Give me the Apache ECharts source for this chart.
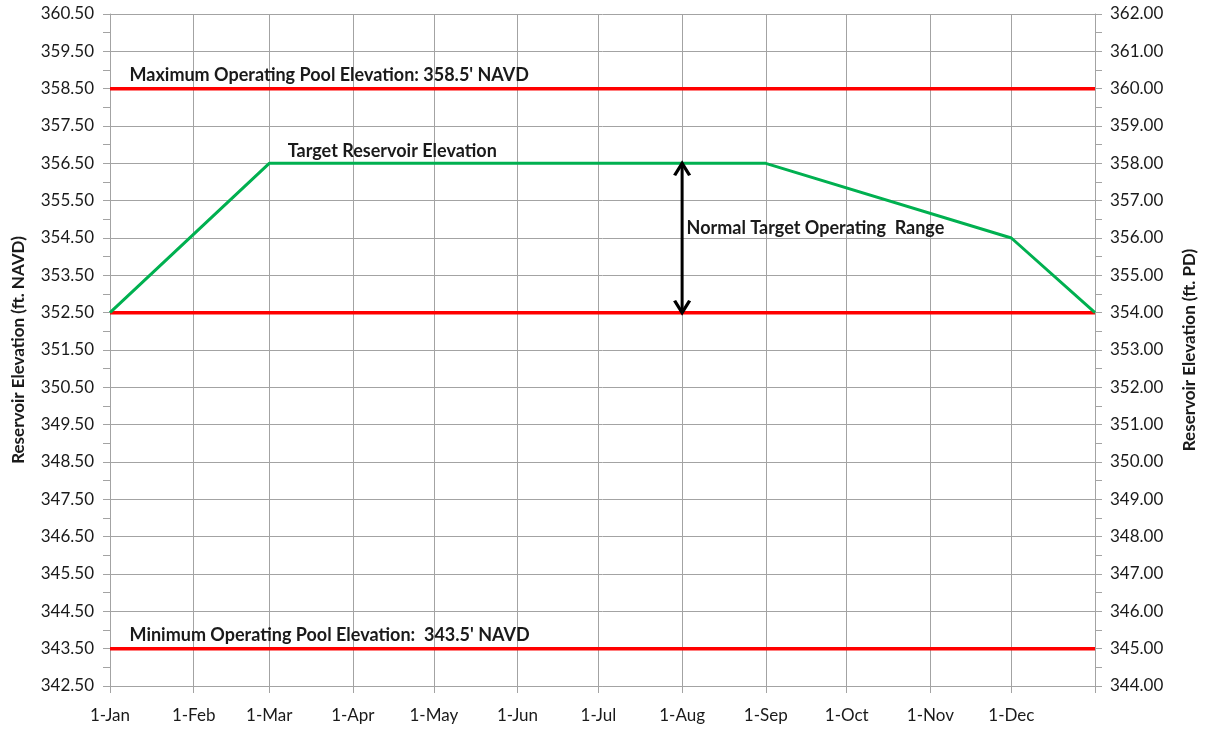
<!DOCTYPE html>
<html>
<head>
<meta charset="utf-8">
<script src="https://cdn.jsdelivr.net/npm/echarts@6/dist/echarts.min.js"></script>
<style>
  html, body { margin: 0; padding: 0; background: #ffffff; }
  #chart { width: 1208px; height: 730px; }
</style>
</head>
<body>
<div id="chart"></div>
<script>
// ---- data ----
const monthLabels = ['1-Jan', '1-Feb', '1-Mar', '1-Apr', '1-May', '1-Jun',
                     '1-Jul', '1-Aug', '1-Sep', '1-Oct', '1-Nov', '1-Dec'];
// target rule curve: [year, monthIndex, day] breakpoints
const targetDates = [[2023, 0, 1], [2023, 2, 1], [2023, 8, 1], [2023, 11, 1], [2024, 0, 1]];
const targetElev = [352.5, 356.5, 356.5, 354.5, 352.5];
const maxPoolElev = 358.5;
const normalLowElev = 352.5;
const minPoolElev = 343.5;
const rangeArrowDate = [2023, 7, 1];
const leftTickValues = [342.5, 343.5, 344.5, 345.5, 346.5, 347.5, 348.5, 349.5, 350.5,
                        351.5, 352.5, 353.5, 354.5, 355.5, 356.5, 357.5, 358.5, 359.5, 360.5];
const leftMinorValues = [343, 344, 345, 346, 347, 348, 349, 350, 351, 352,
                         353, 354, 355, 356, 357, 358, 359, 360];
const rightMin = 344, rightMax = 362;

// ---- helpers ----
const t = d => new Date(d[0], d[1], d[2]).getTime();
const yearStart = t([2023, 0, 1]);
const yearEnd = t([2024, 0, 1]);
const monthStarts = monthLabels.map((_, i) => t([2023, i, 1]));
const xTickValues = monthStarts.concat([yearEnd]);
const flatLine = v => [[yearStart, v], [yearEnd, v]];

const FONT = 'Lato';
const gridColor = '#a3a3a3';
const annot = { color: '#1a1a1a', fontFamily: FONT, fontWeight: 'bold', fontSize: 18 };

function textMark(coord, text, offset) {
  return {
    symbol: 'circle', symbolSize: 1, silent: true,
    itemStyle: { color: 'rgba(0,0,0,0)' },
    label: Object.assign({ show: true, position: 'right', distance: 0, formatter: text, offset: offset }, annot),
    data: [{ coord: coord }]
  };
}

const chart = echarts.init(document.getElementById('chart'), null, { renderer: 'canvas' });

const option = {
  animation: false,
  backgroundColor: '#ffffff',
  grid: { left: 110, right: 113, top: 14, bottom: 44, containLabel: false },
  xAxis: {
    type: 'value',
    min: yearStart, max: yearEnd,
    axisLine: { show: true, lineStyle: { color: gridColor, width: 1 } },
    axisTick: { show: true, length: 7, lineStyle: { color: gridColor }, customValues: xTickValues },
    axisLabel: {
      customValues: monthStarts,
      formatter: v => monthLabels[new Date(v).getMonth()],
      color: '#1a1a1a', fontFamily: FONT, fontSize: 17, margin: 21,
      hideOverlap: false
    },
    splitLine: { show: true, lineStyle: { color: gridColor, width: 1 } }
  },
  yAxis: [
    {
      type: 'value', position: 'left',
      min: leftTickValues[0], max: leftTickValues[leftTickValues.length - 1],
      name: 'Reservoir Elevation (ft. NAVD)', nameLocation: 'middle', nameRotate: 90, nameGap: 83,
      nameTextStyle: { color: '#1a1a1a', fontFamily: FONT, fontWeight: 'bold', fontSize: 17 },
      axisLine: { show: true, lineStyle: { color: gridColor, width: 1 } },
      axisTick: { show: true, length: 7, lineStyle: { color: gridColor }, customValues: leftTickValues },
      axisLabel: {
        customValues: leftTickValues,
        formatter: v => v.toFixed(2),
        color: '#1a1a1a', fontFamily: FONT, fontSize: 17, margin: 16
      },
      splitLine: { show: true, lineStyle: { color: gridColor, width: 1 } }
    },
    {
      type: 'value', position: 'right',
      min: rightMin, max: rightMax, interval: 1,
      name: 'Reservoir Elevation (ft. PD)', nameLocation: 'middle', nameRotate: 90, nameGap: 86,
      nameTextStyle: { color: '#1a1a1a', fontFamily: FONT, fontWeight: 'bold', fontSize: 17 },
      axisLine: { show: true, lineStyle: { color: gridColor, width: 1 } },
      axisTick: { show: true, length: 7, lineStyle: { color: gridColor } },
      minorTick: { show: true, splitNumber: 2, length: 7, lineStyle: { color: gridColor } },
      axisLabel: {
        formatter: v => v.toFixed(2),
        color: '#1a1a1a', fontFamily: FONT, fontSize: 17, margin: 15
      },
      splitLine: { show: false }
    },
    {
      // half-foot tick marks on the NAVD axis
      type: 'value', position: 'left',
      min: leftTickValues[0], max: leftTickValues[leftTickValues.length - 1],
      axisLine: { show: false },
      axisTick: { show: true, length: 7, lineStyle: { color: gridColor }, customValues: leftMinorValues },
      axisLabel: { show: false },
      splitLine: { show: false }
    }
  ],
  series: [
    {
      name: 'Maximum Operating Pool', type: 'line', yAxisIndex: 0,
      data: flatLine(maxPoolElev), symbol: 'none',
      lineStyle: { color: '#ff0000', width: 3.5 },
      markPoint: textMark([yearStart, maxPoolElev], "Maximum Operating Pool Elevation: 358.5' NAVD", [19, -13])
    },
    {
      name: 'Normal Low', type: 'line', yAxisIndex: 0,
      data: flatLine(normalLowElev), symbol: 'none',
      lineStyle: { color: '#ff0000', width: 3.5 }
    },
    {
      name: 'Minimum Operating Pool', type: 'line', yAxisIndex: 0,
      data: flatLine(minPoolElev), symbol: 'none',
      lineStyle: { color: '#ff0000', width: 3.5 },
      markPoint: textMark([yearStart, minPoolElev], "Minimum Operating Pool Elevation:  343.5' NAVD", [19, -13])
    },
    {
      name: 'Target Reservoir Elevation', type: 'line', yAxisIndex: 0,
      data: targetDates.map((d, i) => [t(d), targetElev[i]]), symbol: 'none',
      lineStyle: { color: '#00b050', width: 3 },
      markPoint: textMark([t(targetDates[1]), targetElev[1]], 'Target Reservoir Elevation', [18, -12])
    },
    {
      name: 'Normal Target Operating Range', type: 'line', yAxisIndex: 0,
      data: [
        { value: [t(rangeArrowDate), normalLowElev], symbolRotate: 180, symbolOffset: [0, -6] },
        { value: [t(rangeArrowDate), targetElev[2]], symbolRotate: 0, symbolOffset: [0, 6] }
      ],
      symbol: 'path://M0,12 L8,0 L16,12', symbolSize: [15, 12], showSymbol: true,
      itemStyle: { color: 'none', borderColor: '#000', borderWidth: 3 },
      lineStyle: { color: '#000', width: 3 },
      markPoint: textMark([t(rangeArrowDate), (normalLowElev + targetElev[2]) / 2],
                          'Normal Target Operating  Range', [4, -10])
    }
  ]
};

chart.setOption(option);
</script>
</body>
</html>
